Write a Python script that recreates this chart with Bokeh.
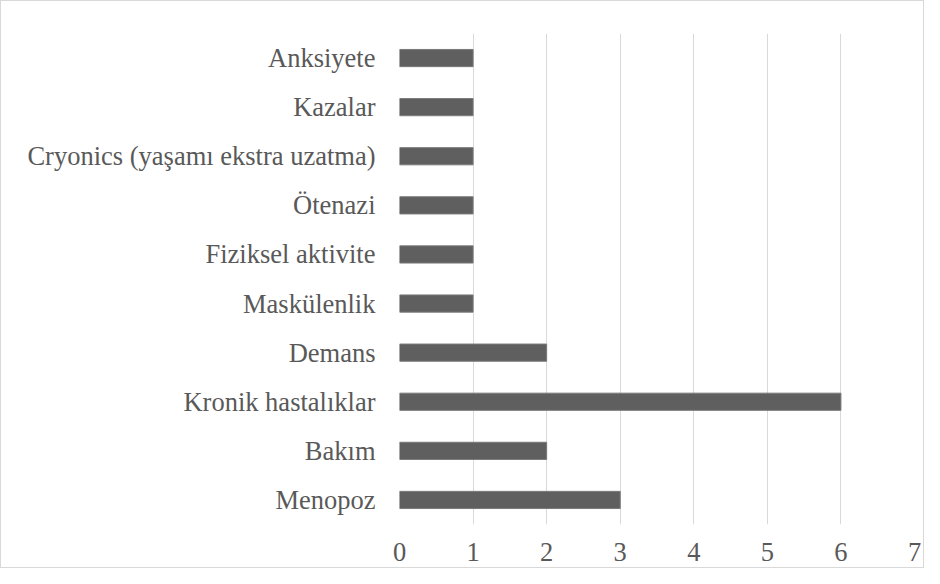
from bokeh.plotting import figure
from bokeh.embed import file_html
from bokeh.resources import INLINE
from bokeh.models import ColumnDataSource, FixedTicker, Range1d

categories = ["Menopoz", "Bakım", "Kronik hastalıklar", "Demans", "Maskülenlik",
              "Fiziksel aktivite", "Ötenazi", "Cryonics (yaşamı ekstra uzatma)",
              "Kazalar", "Anksiyete"]
values = [3, 2, 6, 2, 1, 1, 1, 1, 1, 1]
x_ticks = [0, 1, 2, 3, 4, 5, 6, 7]

src = ColumnDataSource(dict(cat=categories, val=values))

p = figure(width=924, height=568, y_range=categories, x_range=Range1d(0, 7),
           output_backend="svg", toolbar_location=None,
           min_border_left=398, min_border_right=11, min_border_top=32, min_border_bottom=45)
p.styles = {"border": "1px solid #d9d9d9"}
p.hbar(y="cat", right="val", left=0, height=0.35, source=src,
       fill_color="#5f5f5f", line_color="#7a7a7a", line_width=1)

p.outline_line_color = None
p.ygrid.grid_line_color = None
p.xgrid.grid_line_color = "#d9d9d9"
p.xgrid.grid_line_width = 1
p.xaxis.ticker = FixedTicker(ticks=x_ticks)
for ax in (p.xaxis, p.yaxis):
    ax.axis_line_color = None
    ax.major_tick_line_color = None
    ax.minor_tick_line_color = None
    ax.major_label_text_font = "Liberation Serif"
    ax.major_label_text_font_size = "26.5px"
    ax.major_label_text_color = "#595959"
p.xaxis.major_label_standoff = 12
p.yaxis.major_label_standoff = 18
p.y_range.range_padding = 0.0

open("out.html", "w").write(file_html(p, INLINE))
